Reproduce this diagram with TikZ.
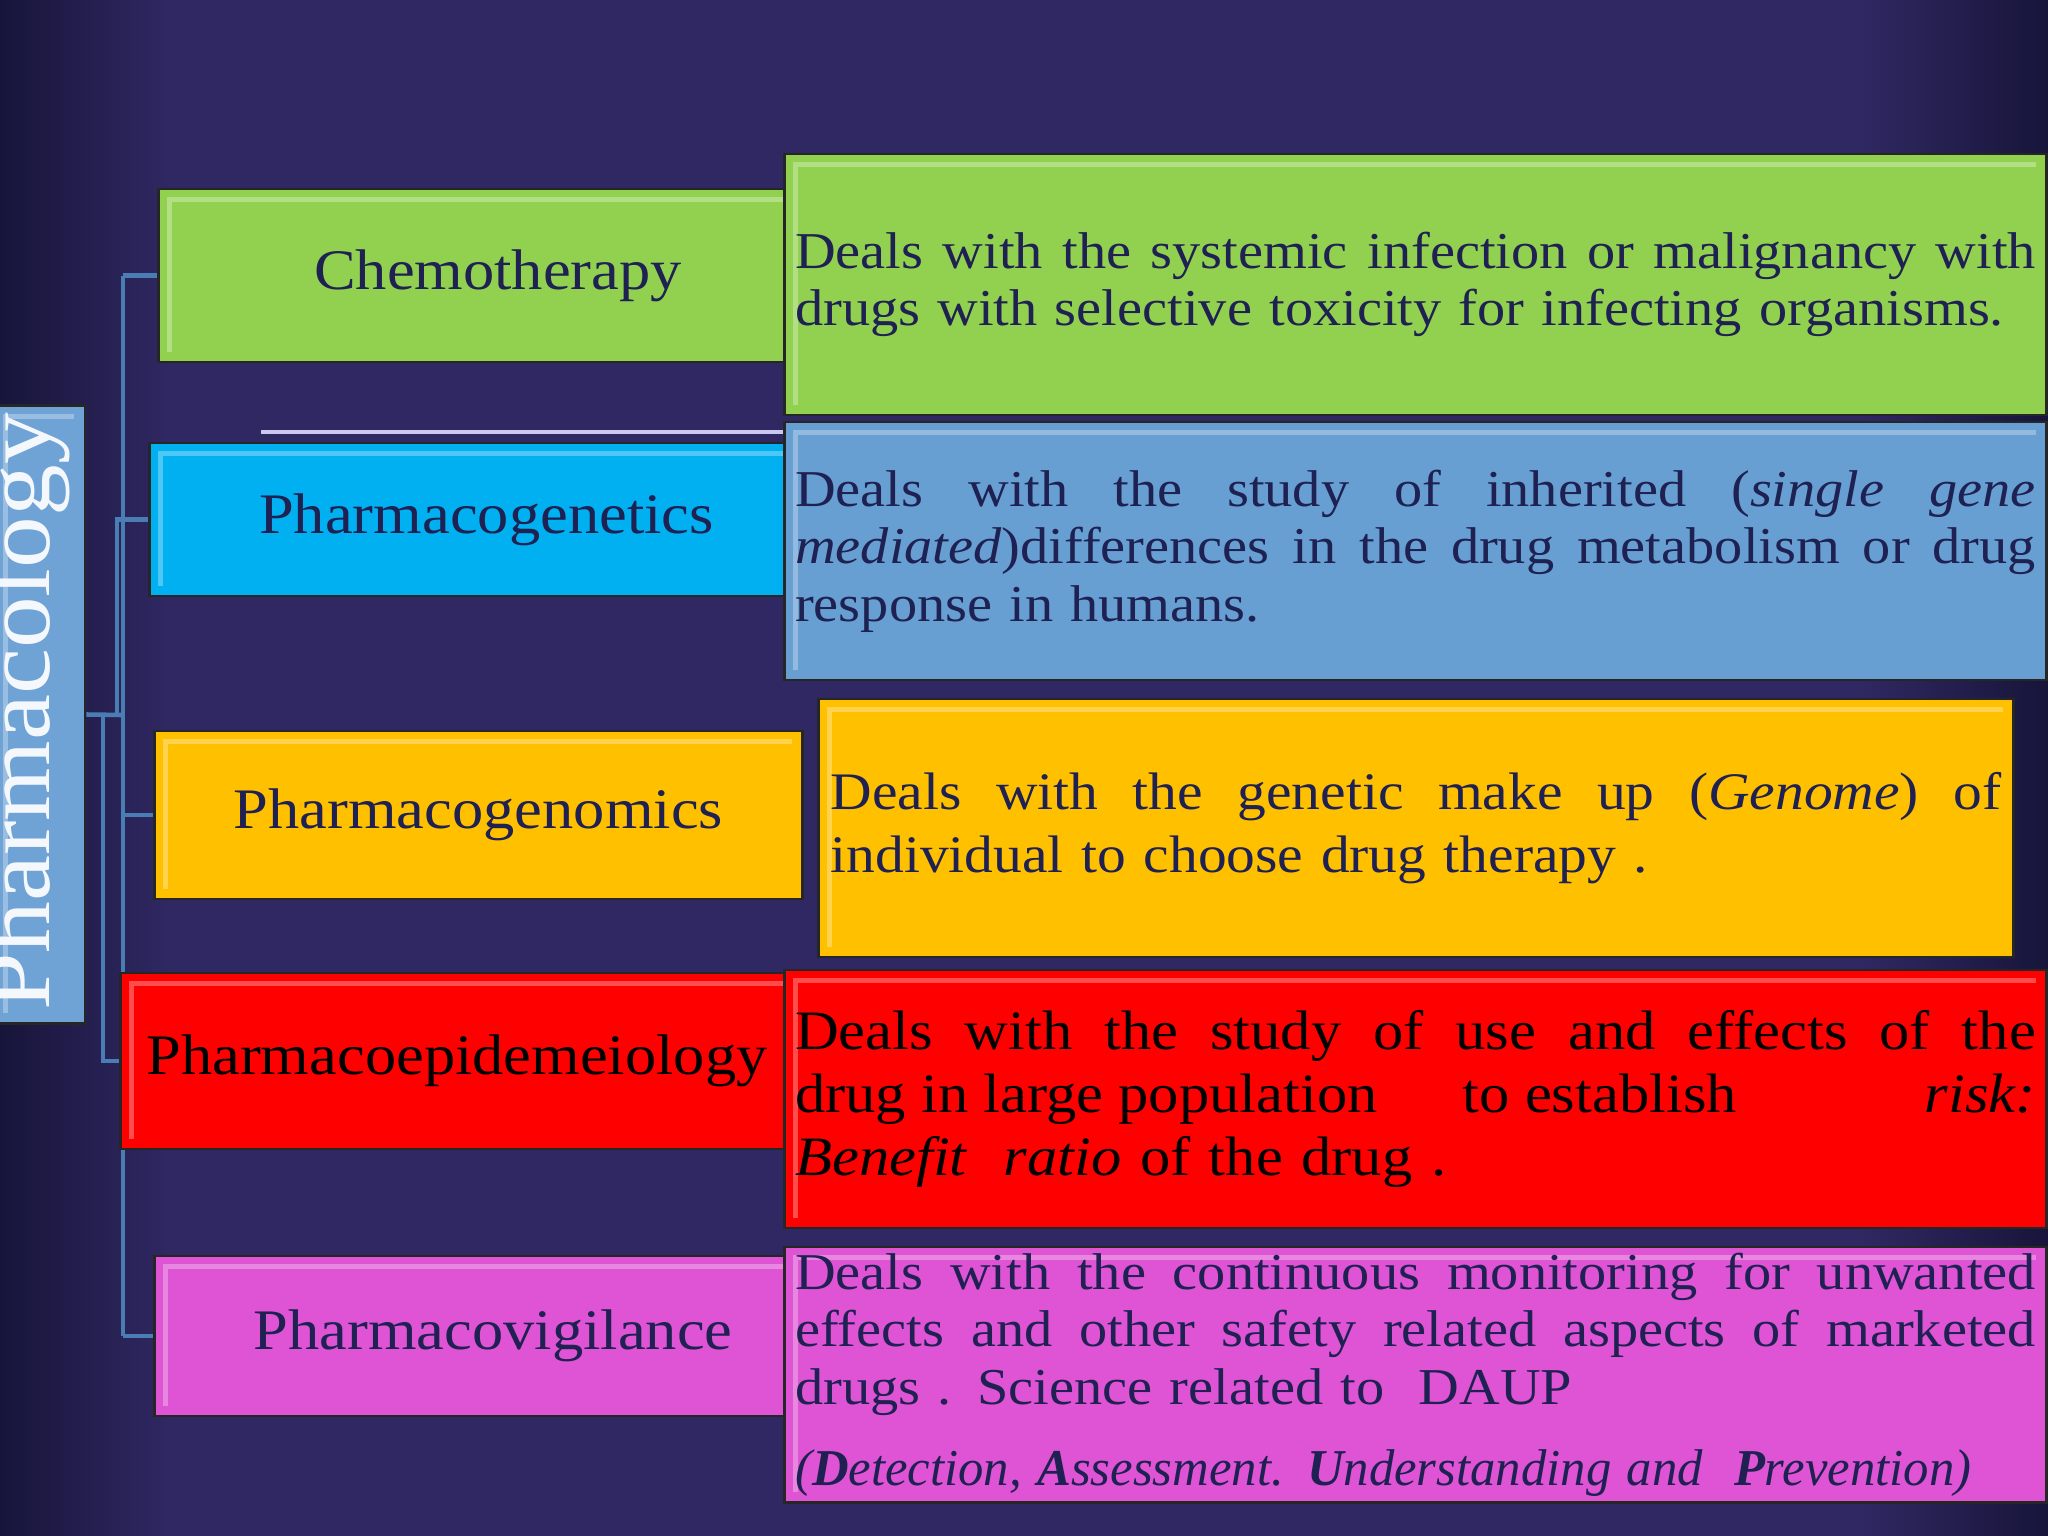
\documentclass[tikz,border=0pt]{standalone}
\usepackage{fontspec}
\usepackage{graphicx}
\setmainfont{Liberation Serif}[FakeStretch=1.09]
\usetikzlibrary{calc}

\definecolor{bgmid}{HTML}{302862}
\definecolor{bgedge}{HTML}{17153A}
\definecolor{ink}{HTML}{1E2152}
\definecolor{connblue}{HTML}{4A7DB4}
\definecolor{lavender}{HTML}{C9C8EE}
\definecolor{chemogreen}{HTML}{92D050}
\definecolor{geneblue}{HTML}{00B0F0}
\definecolor{steelblue}{HTML}{679FD2}
\definecolor{genoyellow}{HTML}{FFC000}
\definecolor{epired}{HTML}{FF0000}
\definecolor{vigpink}{HTML}{DE54D4}
\definecolor{rootblue}{HTML}{6FA3D6}

% one justified line of a description
\newcommand{\jline}[1]{{\spaceskip=0pt\relax\xspaceskip=0pt\relax\makebox[\hsize][s]{#1}}}

\tikzset{
  bevel/.style={path picture={
      \draw[white,opacity=.3,line width=1.5pt]
        ([xshift=3pt,yshift=3pt]path picture bounding box.south west)
        |- ([xshift=-3pt,yshift=-3pt]path picture bounding box.north east);}},
  catbox/.style={draw=black!85, line width=.8pt, bevel, inner sep=0pt, text=ink,
      font=\fontsize{16.3}{19}\selectfont},
  descbox/.style={draw=black!85, line width=.8pt, bevel, align=left, text=ink,
      inner xsep=0.105cm, inner ysep=0pt, minimum width=12.61cm,
      text width=12.4cm, font=\fontsize{14.7}{16.4}\selectfont},
  conn/.style={draw=connblue, line width=1.3pt},
}

\begin{document}
\begin{tikzpicture}[x=0.01cm,y=-0.01cm]
  \useasboundingbox (0,0) rectangle (2048,1536);
  % background
  \fill[bgmid] (0,0) rectangle (2048,1536);
  \shade[left color=bgedge, right color=bgmid] (0,0) rectangle (170,1536);
  \shade[left color=bgmid, right color=bgedge] (1860,0) rectangle (2048,1536);
  \draw[lavender, line width=1pt] (261,432) -- (785,432);

  % categories
  \node[catbox, fill=chemogreen, minimum width=6.78cm, minimum height=1.73cm]
    (chemo) at (498,275.5) {Chemotherapy};
  \node[catbox, fill=geneblue, minimum width=6.73cm, minimum height=1.53cm]
    (genetics) at (486.5,519.5) {Pharmacogenetics};
  \node[catbox, fill=genoyellow, minimum width=6.47cm, minimum height=1.68cm]
    (genomics) at (478.5,815) {Pharmacogenomics};
  \node[catbox, fill=epired, text=black, minimum width=6.72cm, minimum height=1.76cm]
    (epi) at (457,1061) {Pharmacoepidemeiology};
  \node[catbox, fill=vigpink, minimum width=6.76cm, minimum height=1.60cm]
    (vigil) at (493,1336) {Pharmacovigilance};

  % descriptions
  \node[descbox, fill=chemogreen, minimum height=2.61cm] (chemoD) at (1415.5,284.5)
    {\jline{Deals with the systemic infection or malignancy with}\\
     drugs with selective toxicity for infecting organisms.};
  \node[descbox, fill=steelblue, minimum height=2.58cm] (geneticsD) at (1415.5,551)
    {\jline{Deals with the study of inherited (\textit{single gene}}\\
     \jline{\textit{mediated})differences in the drug metabolism or drug}\\
     response in humans.};
  \node[descbox, fill=genoyellow, minimum height=2.58cm, minimum width=11.94cm,
        text width=11.7cm, inner xsep=0.12cm, font=\fontsize{15}{17.8}\selectfont]
    (genomicsD) at (1416,828)
    {\jline{Deals with the genetic make up (\textit{Genome}) of}\\
     individual to choose drug therapy .};
  \node[descbox, fill=epired, text=black, minimum height=2.58cm,
        font=\fontsize{15.8}{17.8}\selectfont] (epiD) at (1415.5,1099)
    {\jline{Deals with the study of use and effects of the}\\
     \jline{drug in large population\hspace{0.85cm}to establish\hfill\textit{risk:}}\\
     \textit{Benefit\ \ ratio} of the drug .};
  \node[descbox, fill=vigpink, minimum height=2.55cm] (vigilD) at (1415.5,1374.5)
    {\jline{Deals with the continuous monitoring for unwanted}\\
     \jline{effects and other safety related aspects of marketed}\\
     drugs . Science related to\ \ DAUP\\[6.5pt]
     \scalebox{0.9}[1]{\textit{(\textbf{D}etection, \textbf{A}ssessment. \textbf{U}nderstanding and\ \ \textbf{P}revention)}}};

  % root
  \node[draw=black!85, line width=.8pt, bevel, fill=rootblue, minimum width=0.9cm,
        minimum height=6.17cm, inner sep=0pt] (root) at (40,714.5) {};
  \node[rotate=90, anchor=base, text=white!92!rootblue,
        font=\fontsize{27}{30}\selectfont] (rootlabel) at (50,712) {Pharmacology};

  % connectors
  \coordinate (hub) at (123,715);
  \coordinate (hubA) at (117,715);
  \coordinate (hubB) at (103,715);
  \draw[conn] (root.east) -- (hub);
  \draw[conn] (hub |- chemo.west) -- (hub |- epi.north);
  \draw[conn] (hub |- epi.south) -- (hub |- vigil.west);
  \draw[conn] (hub |- chemo.west) -- (chemo.west);
  \draw[conn] (hubA) |- (genetics.west);
  \draw[conn] (hub |- genomics.west) -- (genomics.west);
  \draw[conn] (hubB) |- (epi.west);
  \draw[conn] (hub |- vigil.west) -- (vigil.west);
\end{tikzpicture}
\end{document}
